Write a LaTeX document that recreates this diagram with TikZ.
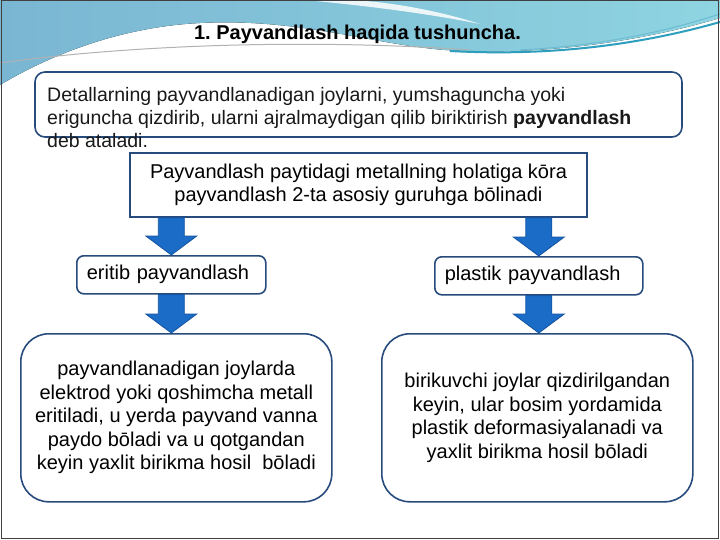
\documentclass[tikz,border=0pt]{standalone}
\usepackage{fontspec}
\setmainfont{Liberation Sans}
\frenchspacing
\usetikzlibrary{calc,positioning}

\definecolor{boxline}{RGB}{40,75,125}
\definecolor{arrowfill}{RGB}{27,108,198}
\definecolor{arrowline}{RGB}{22,84,160}
\definecolor{skyleft}{RGB}{122,182,210}
\definecolor{skyright}{RGB}{142,212,225}
\definecolor{tealline}{RGB}{45,158,190}

% block arrow from a top point down to a tip
\newcommand{\flowarrow}[2]{%
  \path (#1) coordinate (fa-top) (#2) coordinate (fa-tip);
  \filldraw[flowarrow] ($(fa-top)+(-13,0)$) -- ($(fa-tip)+(-13,-19)$) -- ($(fa-tip)+(-25.5,-19)$)
    -- (fa-tip) -- ($(fa-tip)+(25.5,-19)$) -- ($(fa-tip)+(13,-19)$) -- ($(fa-top)+(13,0)$) -- cycle;
}

\begin{document}
\begin{tikzpicture}[x=1pt, y=-1pt,
  plainbox/.style={draw=boxline, line width=1.6pt, fill=white},
  roundbox/.style={plainbox, rounded corners=7pt},
  bigbox/.style={plainbox, rounded corners=28pt},
  flowarrow/.style={fill=arrowfill, draw=arrowline, line width=0.8pt},
  bodytext/.style={font=\fontsize{20}{23.5}\selectfont, text=black}]

\useasboundingbox (0,0) rectangle (720,540);
\fill[white] (0,0) rectangle (720,540);

% header swoosh
\fill[left color=skyleft, right color=skyright] (0,0) -- (720,0) -- (720,18)
  .. controls (640,42) and (540,56) .. (445,50) .. controls (370,44) and (300,18) .. (200,23)
  .. controls (120,27) and (50,55) .. (0,85) -- cycle;
\fill[white, opacity=0.85] (305,0) .. controls (370,6) and (430,14) .. (480,24)
  .. controls (430,8) and (380,1) .. (348,0) -- cycle;
\draw[gray!60, line width=1pt] (0,63) .. controls (120,46) and (300,38) .. (470,50);
\draw[tealline, line width=2pt] (450,51) .. controls (560,57) and (650,42) .. (720,22);
\draw[tealline!70, line width=1pt] (520,50) .. controls (610,45) and (670,30) .. (720,14);

\node[font=\fontsize{20}{24}\selectfont\bfseries, anchor=base] (title) at (357.5,40) {1. Payvandlash haqida tushuncha.};

% definition
\draw[plainbox, rounded corners=10pt] (35,72) rectangle (682,137);
\node[font=\fontsize{19.5}{23}\selectfont, text=black!90, align=left, anchor=base west, inner sep=0pt] (deftext) at (47,148)
  {Detallarning payvandlanadigan joylarni, yumshaguncha yoki\\
   eriguncha qizdirib, ularni ajralmaydigan qilib biriktirish \textbf{payvandlash}\\
   deb ataladi.};

% groups
\node[plainbox, bodytext, minimum width=457, minimum height=64, align=center] (groups) at (358.5,185)
  {Payvandlash paytidagi metallning holatiga kōra\\ payvandlash 2-ta asosiy guruhga bōlinadi};

\node[roundbox, bodytext, anchor=north west, minimum height=38, text width=169, inner xsep=10pt, align=left] (eritib) at (76,255) {eritib payvandlash};
\node[roundbox, bodytext, anchor=north west, minimum height=38, text width=188, inner xsep=10pt, align=left] (plastik) at (434,256) {plastik payvandlash};

\node[bigbox, bodytext, anchor=north west, minimum width=311, minimum height=168, align=center] (melt) at (20,333)
  {payvandlanadigan joylarda\\ elektrod yoki qoshimcha metall\\ eritiladi, u yerda payvand vanna\\ paydo bōladi va u qotgandan\\ keyin yaxlit birikma hosil\ \ bōladi};
\node[bigbox, bodytext, anchor=north west, minimum width=311, minimum height=168, align=center] (press) at (381,333)
  {birikuvchi joylar qizdirilgandan\\ keyin, ular bosim yordamida\\ plastik deformasiyalanadi va\\ yaxlit birikma hosil bōladi};

\flowarrow{groups.south -| eritib.north}{eritib.north}
\flowarrow{groups.south -| plastik.north}{plastik.north}
\flowarrow{eritib.south}{eritib.south |- melt.north}
\flowarrow{plastik.south}{plastik.south |- press.north}

% frame
\draw[gray!50!black, line width=1pt] (1,1) rectangle (718,538);
\end{tikzpicture}
\end{document}
